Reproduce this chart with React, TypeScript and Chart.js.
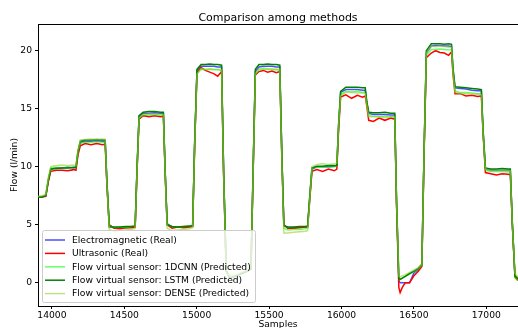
import React, { useEffect, useRef } from "react";
import { Chart, registerables } from "chart.js";

Chart.register(...registerables);

const chartTitle = "Comparison among methods";
const xLabel = "Samples";
const yLabel = "Flow (l/min)";
const xTicks = [14000, 14500, 15000, 15500, 16000, 16500, 17000];
const yTicks = [0, 5, 10, 15, 20];
const xMin = 13904;
const xMax = 17219;
const yMin = -2.0;
const yMax = 22.3;

const samples = [
  13904, 13930, 13958, 13975, 13992,
  14030, 14070, 14110, 14150, 14166,
  14180, 14196,
  14230, 14270, 14310, 14350, 14368,
  14380, 14396,
  14430, 14470, 14510, 14550, 14575,
  14588, 14602,
  14630, 14670, 14710, 14750, 14770,
  14782, 14796,
  14830, 14870, 14910, 14950, 14972,
  14986, 15002,
  15030, 15060, 15090, 15120, 15145, 15172,
  15186, 15204,
  15230, 15270, 15310, 15350, 15375,
  15390, 15405,
  15430, 15460, 15490, 15520, 15550, 15574,
  15588, 15602,
  15630, 15670, 15710, 15750, 15766,
  15780, 15796,
  15830, 15870, 15910, 15950, 15968,
  15980, 15994,
  16030, 16070, 16110, 16145, 16164,
  16175, 16188,
  16220, 16260, 16300, 16340, 16368,
  16380, 16396,
  16405, 16420, 16440, 16470, 16500, 16530, 16555,
  16570, 16586,
  16620, 16650, 16680, 16710, 16740, 16760,
  16770, 16784,
  16820, 16860, 16900, 16940, 16966,
  16978, 16994,
  17030, 17070, 17110, 17150, 17166,
  17180, 17198, 17219,
];

const electromagnetic = [
  7.4, 7.4, 7.5, 8.8, 9.8,
  9.9, 9.9, 9.95, 9.9, 9.95,
  11.2, 12.1,
  12.2, 12.2, 12.25, 12.2, 12.2,
  8.6, 5.0,
  4.7, 4.7, 4.75, 4.8, 4.85,
  9.8, 14.3,
  14.6, 14.6, 14.65, 14.6, 14.6,
  9.6, 5.1,
  4.8, 4.8, 4.8, 4.85, 4.9,
  12.0, 18.3,
  18.65, 18.65, 18.65, 18.65, 18.6, 18.6,
  9.5, 1.0,
  0.4, 0.6, 0.8, 1.0, 1.2,
  9.8, 18.2,
  18.6, 18.65, 18.65, 18.65, 18.6, 18.6,
  11.0, 5.0,
  4.7, 4.75, 4.8, 4.8, 4.8,
  7.2, 9.8,
  10.0, 10.0, 10.0, 10.05, 10.1,
  13.5, 16.4,
  16.65, 16.65, 16.65, 16.6, 16.6,
  15.5, 14.6,
  14.5, 14.5, 14.5, 14.45, 14.45,
  7.0, 0.2,
  0.0, 0.0, 0.0, 0.0, 0.85, 1.15, 1.5,
  11.0, 19.8,
  20.4, 20.45, 20.45, 20.4, 20.4, 20.35,
  18.4, 16.8,
  16.75, 16.7, 16.6, 16.55, 16.55,
  13.0, 9.8,
  9.7, 9.7, 9.7, 9.7, 9.7,
  5.0, 0.6, 0.3,
];

const ultrasonic = [
  7.4, 7.4, 7.45, 8.7, 9.6,
  9.7, 9.7, 9.65, 9.75, 9.7,
  11.0, 11.8,
  12.0, 11.9, 12.0, 11.9, 11.95,
  8.4, 5.0,
  4.7, 4.65, 4.75, 4.75, 4.8,
  9.6, 14.1,
  14.4, 14.3, 14.4, 14.3, 14.35,
  9.5, 5.0,
  4.7, 4.8, 4.75, 4.8, 4.85,
  11.8, 18.1,
  18.55, 18.3, 18.15, 18.0, 17.8, 18.2,
  9.2, 1.0,
  0.4, 0.6, 0.8, 1.0, 1.2,
  9.6, 17.9,
  18.2, 18.3, 18.15, 18.25, 18.1, 18.2,
  10.8, 5.0,
  4.7, 4.7, 4.75, 4.8, 4.8,
  7.0, 9.6,
  9.75, 9.6, 9.8, 9.65, 9.8,
  13.2, 16.0,
  16.2, 15.9, 16.15, 16.0, 16.1,
  15.2, 14.0,
  13.9, 14.2, 14.0, 14.2, 14.1,
  6.8, -0.4,
  -0.85, -0.4, 0.0, 0.0, 0.6, 1.0, 1.4,
  10.8, 19.4,
  19.8, 20.0, 19.85, 19.8, 19.6, 19.9,
  18.0, 16.3,
  16.3, 16.1, 16.15, 16.05, 16.1,
  12.8, 9.5,
  9.4, 9.3, 9.4, 9.35, 9.3,
  5.0, 0.5, 0.2,
];

const cnn1d = [
  7.4, 7.45, 7.6, 9.0, 9.9,
  9.95, 9.9, 9.95, 9.9, 9.95,
  11.4, 12.0,
  12.1, 12.1, 12.15, 12.1, 12.1,
  8.8, 4.9,
  4.75, 4.8, 4.75, 4.85, 4.9,
  10.0, 14.2,
  14.45, 14.45, 14.5, 14.45, 14.45,
  9.8, 5.0,
  4.85, 4.8, 4.85, 4.9, 4.95,
  12.3, 18.0,
  18.4, 18.35, 18.4, 18.35, 18.35, 18.3,
  9.8, 1.2,
  0.5, 0.6, 0.85, 1.05, 1.25,
  10.2, 18.0,
  18.35, 18.4, 18.4, 18.35, 18.35, 18.3,
  11.2, 4.7,
  4.55, 4.6, 4.6, 4.65, 4.7,
  7.4, 9.9,
  9.95, 10.0, 9.95, 10.0, 10.05,
  13.8, 16.2,
  16.5, 16.45, 16.5, 16.4, 16.45,
  15.4, 14.4,
  14.35, 14.3, 14.35, 14.3, 14.3,
  7.3, 0.5,
  0.3, 0.4, 0.55, 0.75, 0.95, 1.2, 1.5,
  11.4, 19.6,
  20.1, 20.1, 20.15, 20.1, 20.05, 20.1,
  18.2, 16.5,
  16.4, 16.4, 16.35, 16.3, 16.3,
  13.2, 9.7,
  9.6, 9.6, 9.6, 9.55, 9.6,
  5.2, 0.4, 0.2,
];

const lstm = [
  7.4, 7.4, 7.5, 8.8, 9.8,
  9.85, 9.9, 9.9, 9.95, 9.95,
  11.3, 12.2,
  12.3, 12.3, 12.35, 12.3, 12.3,
  8.7, 4.8,
  4.8, 4.8, 4.85, 4.85, 4.9,
  9.9, 14.4,
  14.7, 14.75, 14.75, 14.7, 14.7,
  9.7, 5.0,
  4.85, 4.8, 4.85, 4.9, 4.9,
  12.1, 18.4,
  18.8, 18.8, 18.85, 18.8, 18.8, 18.75,
  9.6, 1.0,
  0.4, 0.6, 0.8, 1.0, 1.2,
  9.9, 18.4,
  18.8, 18.8, 18.85, 18.8, 18.8, 18.75,
  11.0, 4.9,
  4.8, 4.8, 4.85, 4.85, 4.9,
  7.3, 9.9,
  10.05, 10.05, 10.1, 10.1, 10.1,
  13.6, 16.5,
  16.85, 16.85, 16.85, 16.8, 16.8,
  15.6, 14.7,
  14.65, 14.65, 14.7, 14.6, 14.6,
  7.1, 0.4,
  0.3, 0.4, 0.55, 0.8, 1.0, 1.25, 1.6,
  11.2, 20.0,
  20.6, 20.6, 20.6, 20.55, 20.6, 20.55,
  18.5, 16.9,
  16.85, 16.8, 16.75, 16.7, 16.65,
  13.1, 9.9,
  9.8, 9.8, 9.85, 9.8, 9.8,
  5.1, 0.6, 0.4,
];

const dense = [
  7.45, 7.5, 7.6, 9.0, 10.0,
  10.1, 10.15, 10.1, 10.15, 10.1,
  11.4, 12.3,
  12.35, 12.4, 12.35, 12.4, 12.35,
  8.5, 4.6,
  4.4, 4.5, 4.55, 4.6, 4.7,
  9.7, 14.2,
  14.5, 14.55, 14.5, 14.5, 14.5,
  9.5, 4.7,
  4.5, 4.55, 4.6, 4.65, 4.75,
  11.8, 18.0,
  18.45, 18.4, 18.45, 18.4, 18.4, 18.35,
  9.3, 0.9,
  0.6, 0.7, 0.9, 1.1, 1.3,
  9.6, 18.0,
  18.45, 18.5, 18.45, 18.45, 18.4, 18.4,
  10.6, 4.3,
  4.3, 4.35, 4.4, 4.45, 4.5,
  7.0, 10.0,
  10.2, 10.25, 10.2, 10.25, 10.3,
  13.5, 16.1,
  16.4, 16.4, 16.35, 16.35, 16.3,
  15.3, 14.3,
  14.3, 14.3, 14.25, 14.3, 14.3,
  7.0, 0.6,
  0.5, 0.6, 0.7, 0.9, 1.1, 1.3, 1.6,
  11.0, 19.8,
  20.4, 20.35, 20.4, 20.35, 20.3, 20.3,
  18.2, 16.4,
  16.3, 16.3, 16.25, 16.25, 16.2,
  12.8, 9.8,
  9.65, 9.65, 9.7, 9.65, 9.65,
  5.0, 0.8, 0.5,
];

const seriesNames = [
  "Electromagnetic (Real)",
  "Ultrasonic (Real)",
  "Flow virtual sensor: 1DCNN (Predicted)",
  "Flow virtual sensor: LSTM (Predicted)",
  "Flow virtual sensor: DENSE (Predicted)",
];
const seriesValues = [electromagnetic, ultrasonic, cnn1d, lstm, dense];
const seriesColors = [
  "rgba(0,0,255,0.7)",
  "rgba(255,0,0,1)",
  "rgba(0,255,0,0.6)",
  "rgba(0,128,0,1)",
  "rgba(154,205,50,0.6)",
];

const FONT = "DejaVu Sans";
const TICK_SIZE = 9.2;

const decorPlugin = {
  id: "decor",
  afterDatasetsDraw(chart: any) {
    const ctx = chart.ctx;
    const a = chart.chartArea;
    ctx.save();
    // top spine
    ctx.strokeStyle = "#000";
    ctx.lineWidth = 1;
    ctx.beginPath();
    ctx.moveTo(a.left, a.top + 0.5);
    ctx.lineTo(a.right, a.top + 0.5);
    ctx.stroke();
    // title
    ctx.fillStyle = "#000";
    ctx.font = `11px "${FONT}"`;
    ctx.textAlign = "center";
    ctx.textBaseline = "alphabetic";
    ctx.fillText(chartTitle, (a.left + a.right) / 2, 20.5);
    // x label
    ctx.font = `${TICK_SIZE}px "${FONT}"`;
    ctx.textBaseline = "top";
    ctx.fillText(xLabel, (a.left + a.right) / 2, 320);
    // y label
    ctx.save();
    ctx.translate(15, (a.top + a.bottom) / 2);
    ctx.rotate(-Math.PI / 2);
    ctx.textBaseline = "middle";
    ctx.fillText(yLabel, 0, 0);
    ctx.restore();
    // legend
    const bx = 42, by = 230, bw = 213, bh = 72;
    ctx.fillStyle = "rgba(255,255,255,0.8)";
    ctx.strokeStyle = "#cccccc";
    ctx.lineWidth = 1;
    ctx.beginPath();
    if ((ctx as any).roundRect) (ctx as any).roundRect(bx + 0.5, by + 0.5, bw, bh, 2);
    else ctx.rect(bx + 0.5, by + 0.5, bw, bh);
    ctx.fill();
    ctx.stroke();
    ctx.font = `${TICK_SIZE}px "${FONT}"`;
    ctx.textAlign = "left";
    ctx.textBaseline = "middle";
    for (let i = 0; i < seriesNames.length; i++) {
      const y = 240 + i * 13.4;
      ctx.strokeStyle = seriesColors[i];
      ctx.lineWidth = 1.5;
      ctx.beginPath();
      ctx.moveTo(45, y);
      ctx.lineTo(65, y);
      ctx.stroke();
      ctx.fillStyle = "#000";
      ctx.fillText(seriesNames[i], 72, y + 0.5);
    }
    ctx.restore();
  },
};

export default function App() {
  const ref = useRef<HTMLCanvasElement | null>(null);
  useEffect(() => {
    if (!ref.current) return;
    const chart = new Chart(ref.current, {
      type: "line",
      data: {
        datasets: seriesNames.map((name, i) => ({
          label: name,
          data: samples.map((s, j) => ({ x: s, y: seriesValues[i][j] })),
          borderColor: seriesColors[i],
          backgroundColor: seriesColors[i],
          borderWidth: 1.5,
          pointRadius: 0,
          tension: 0,
          fill: false,
          order: seriesNames.length - 1 - i,
        })),
      },
      options: {
        animation: false,
        responsive: false,
        devicePixelRatio: 1,
        layout: { padding: { top: 24, left: 0, right: 0, bottom: 0 } },
        plugins: {
          legend: { display: false },
          title: { display: false },
          tooltip: { enabled: false },
        },
        scales: {
          x: {
            type: "linear",
            min: xMin,
            max: xMax,
            afterBuildTicks: (scale: any) => {
              scale.ticks = xTicks.map((v) => ({ value: v }));
            },
            afterFit: (scale: any) => {
              scale.height = 22;
            },
            ticks: {
              color: "#000",
              font: { family: FONT, size: TICK_SIZE },
              padding: 1,
              maxRotation: 0,
              autoSkip: false,
              callback: (v: any) => String(v),
            },
            grid: {
              display: true,
              drawOnChartArea: false,
              drawTicks: true,
              tickLength: 3,
              color: "#000",
            },
            border: { display: true, color: "#000", width: 1 },
          },
          y: {
            type: "linear",
            min: yMin,
            max: yMax,
            afterBuildTicks: (scale: any) => {
              scale.ticks = yTicks.map((v) => ({ value: v }));
            },
            afterFit: (scale: any) => {
              scale.width = 38;
            },
            ticks: {
              color: "#000",
              font: { family: FONT, size: TICK_SIZE },
              padding: 3,
              autoSkip: false,
              callback: (v: any) => String(v),
            },
            grid: {
              display: true,
              drawOnChartArea: false,
              drawTicks: true,
              tickLength: 3,
              color: "#000",
            },
            border: { display: true, color: "#000", width: 1 },
          },
        },
      },
      plugins: [decorPlugin],
    } as any);
    return () => chart.destroy();
  }, []);
  return (
    <div style={{ position: "fixed", left: 0, top: 0, width: 518, height: 328, background: "#fff" }}>
      <canvas ref={ref} width={518} height={328} style={{ display: "block" }} />
    </div>
  );
}
